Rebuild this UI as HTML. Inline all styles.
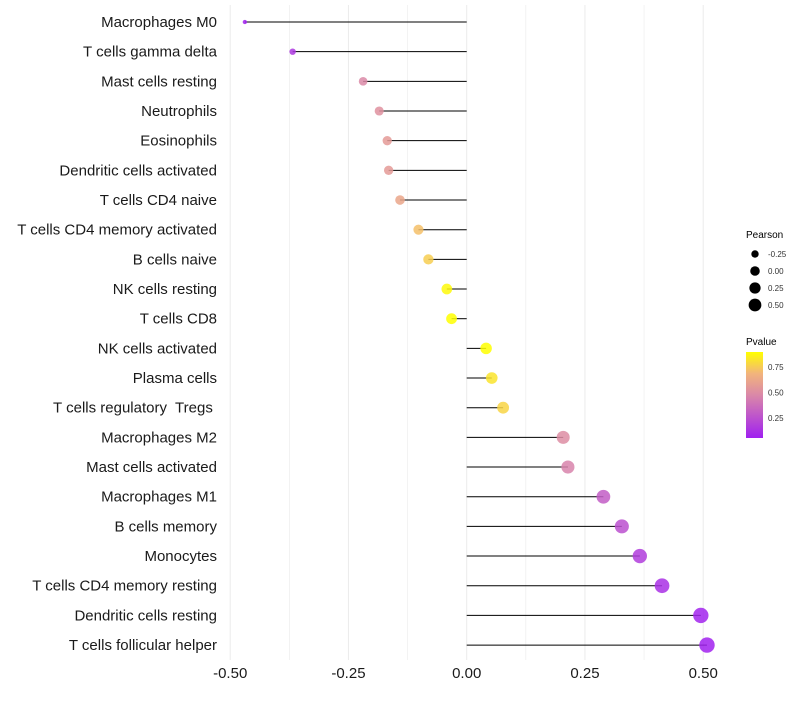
<!DOCTYPE html>
<html><head><meta charset="utf-8"><style>
body{margin:0;background:#fff;font-family:"Liberation Sans",sans-serif}
text{white-space:pre}
</style></head><body>
<svg id="chart" width="800" height="700" xmlns="http://www.w3.org/2000/svg" font-family="Liberation Sans, sans-serif">
<defs><linearGradient id="pg" x1="0" y1="1" x2="0" y2="0">
<stop offset="0" stop-color="#A020F0"/><stop offset="0.5" stop-color="#DA88A8"/><stop offset="0.75" stop-color="#F2B47C"/><stop offset="1" stop-color="#FFFF00"/></linearGradient></defs>
<g id="grid"></g><g id="marks"></g><g id="labels"></g><g id="ticks"></g>
<g id="legend"></g>
</svg>
<script>
const categories=["Macrophages M0","T cells gamma delta","Mast cells resting","Neutrophils","Eosinophils","Dendritic cells activated","T cells CD4 naive","T cells CD4 memory activated","B cells naive","NK cells resting","T cells CD8","NK cells activated","Plasma cells","T cells regulatory  Tregs ","Macrophages M2","Mast cells activated","Macrophages M1","B cells memory","Monocytes","T cells CD4 memory resting","Dendritic cells resting","T cells follicular helper"];
const pearson=[-0.469,-0.368,-0.219,-0.185,-0.168,-0.165,-0.141,-0.102,-0.081,-0.042,-0.032,0.041,0.053,0.077,0.204,0.214,0.289,0.328,0.366,0.413,0.495,0.508];
const pvalue=[0.06,0.15,0.48,0.52,0.56,0.56,0.62,0.72,0.76,0.88,0.9,0.9,0.82,0.78,0.5,0.46,0.3,0.25,0.17,0.12,0.07,0.06];
const xTicks=[-0.5,-0.25,0,0.25,0.5];
const xTickLabels=["-0.50","-0.25","0.00","0.25","0.50"];
const sizeLegend=[-0.25,0,0.25,0.5];
const sizeLegendLabels=["-0.25","0.00","0.25","0.50"];
const NS="http://www.w3.org/2000/svg";
const X=v=>466.7+v*473;
const Y=i=>22+i*29.67;
const R=v=>Math.sqrt(Math.max(1,31+56*v));
function lerp(a,b,t){return a.map((x,i)=>Math.round(x+(b[i]-x)*t));}
function col(p){const t=Math.min(1,Math.max(0,(p-0.054)/0.843));const A=[160,32,240],M=[218,136,168],O=[242,180,124],B=[255,255,0];
let c;if(t<0.5)c=lerp(A,M,t*2);else if(t<0.75)c=lerp(M,O,(t-0.5)*4);else c=lerp(O,B,(t-0.75)*4);return `rgb(${c})`;}
function mk(tag,attrs,parent,text){const e=document.createElementNS(NS,tag);for(const k in attrs)e.setAttribute(k,attrs[k]);if(text!==undefined)e.textContent=text;document.getElementById(parent).appendChild(e);return e;}
for(let v=-0.5;v<=0.501;v+=0.125){const g=mk('line',{x1:X(v),x2:X(v),y1:5,y2:660,stroke:'#ebebeb','stroke-width':Math.abs((v*4)%1)<0.01?1:0.6},'grid');

}
categories.forEach((c,i)=>{
const l=mk('line',{x1:X(0),x2:X(pearson[i]),y1:Y(i),y2:Y(i),stroke:'#000','stroke-width':1},'marks');


const d=mk('circle',{cx:X(pearson[i]),cy:Y(i),r:R(pearson[i]),fill:col(pvalue[i]),'fill-opacity':0.85},'marks');


const t=mk('text',{x:217,y:Y(i)+5,'text-anchor':'end','font-size':15,fill:'#1a1a1a'},'labels',c);


});
xTicks.forEach((v,i)=>{const t=mk('text',{x:X(v),y:678,'text-anchor':'middle','font-size':15,fill:'#1a1a1a'},'ticks',xTickLabels[i]);

});
const lt=mk('text',{x:746,y:238,'font-size':10,fill:'#000'},'legend','Pearson');


sizeLegend.forEach((v,i)=>{const y=254+i*17;
const c=mk('circle',{cx:755,cy:y,r:R(v)*0.75+0.6,fill:'#000'},'legend');


const t=mk('text',{x:768,y:y+3,'font-size':8,fill:'#333'},'legend',sizeLegendLabels[i]);

});
const pt=mk('text',{x:746,y:345,'font-size':10,fill:'#000'},'legend','Pvalue');


const bar=mk('rect',{x:746,y:352,width:17,height:86,fill:'url(#pg)'},'legend');


[[0.75,"0.75"],[0.5,"0.50"],[0.25,"0.25"]].forEach(([v,s])=>{const y=352+(0.897-v)*102;
const t=mk('text',{x:768,y:y+3,'font-size':8,fill:'#333'},'legend',s);

});
</script>
</body></html>
